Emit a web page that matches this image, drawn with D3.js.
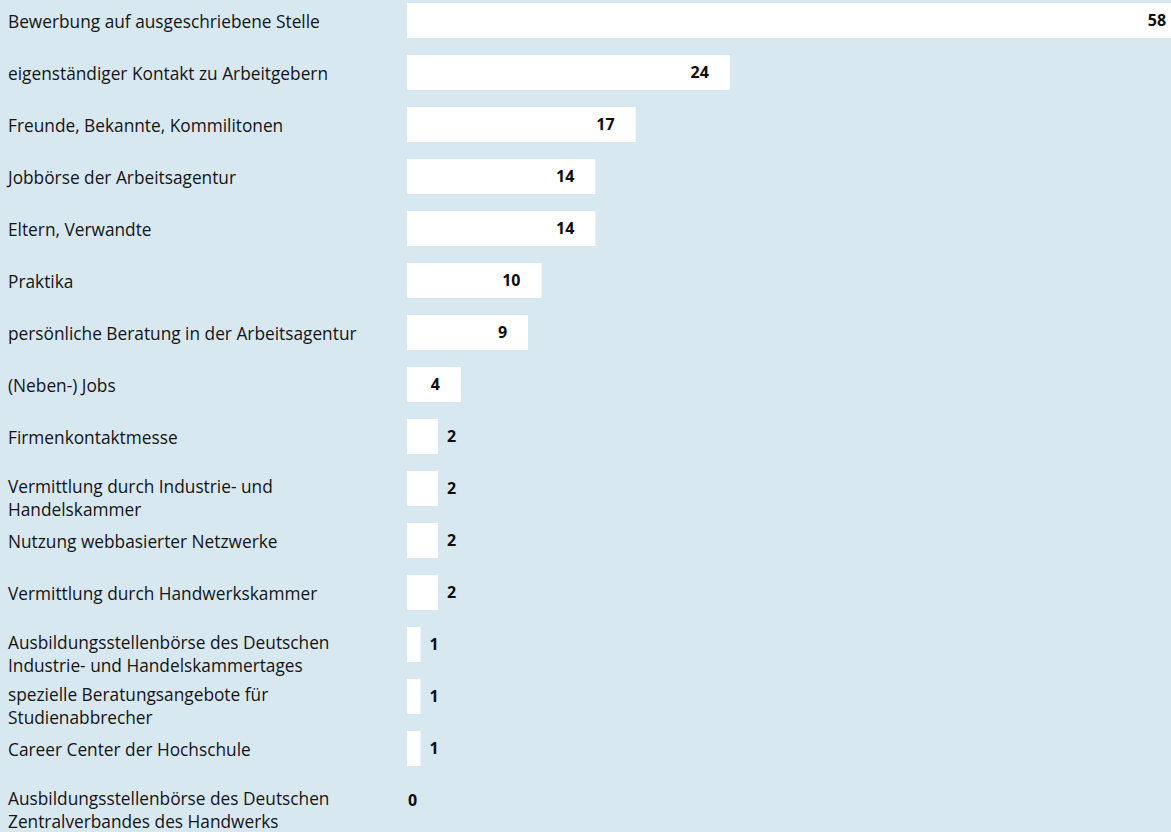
<!DOCTYPE html>
<html>
<head>
<meta charset="utf-8">
<script src="https://cdn.jsdelivr.net/npm/d3@7"></script>
<style>
  html, body { margin: 0; padding: 0; background: #d8e8f1; overflow: hidden; }
  svg { display: block; }
</style>
</head>
<body>
<svg id="chart" width="1171" height="832"></svg>
<script>
// Categories (label lines)
const categories = [
  ["Bewerbung auf ausgeschriebene Stelle"],
  ["eigenständiger Kontakt zu Arbeitgebern"],
  ["Freunde, Bekannte, Kommilitonen"],
  ["Jobbörse der Arbeitsagentur"],
  ["Eltern, Verwandte"],
  ["Praktika"],
  ["persönliche Beratung in der Arbeitsagentur"],
  ["(Neben-) Jobs"],
  ["Firmenkontaktmesse"],
  ["Vermittlung durch Industrie- und", "Handelskammer"],
  ["Nutzung webbasierter Netzwerke"],
  ["Vermittlung durch Handwerkskammer"],
  ["Ausbildungsstellenbörse des Deutschen", "Industrie- und Handelskammertages"],
  ["spezielle Beratungsangebote für", "Studienabbrecher"],
  ["Career Center der Hochschule"],
  ["Ausbildungsstellenbörse des Deutschen", "Zentralverbandes des Handwerks"]
];
// Values (bar lengths; labels are shown rounded)
const values = [58, 24, 17, 14, 14, 10, 9, 4, 2.3, 2.3, 2.3, 2.3, 1, 1, 1, 0];

const svg = d3.select("#chart");

const y = d3.scaleBand()
  .domain(d3.range(categories.length))
  .range([3, 818])
  .paddingInner(17 / 52)
  .paddingOuter(0);

const x = d3.scaleLinear()
  .domain([0, 58])
  .range([407, 407 + 58 * 13.45]);

const fmt = d3.format(".0f");

const rows = svg.selectAll("g.row")
  .data(values.map((v, i) => ({ v, i, lines: categories[i] })))
  .join("g")
  .attr("class", "row");

rows.append("rect")
  .attr("x", x(0))
  .attr("y", d => y(d.i))
  .attr("width", d => x(d.v) - x(0))
  .attr("height", y.bandwidth())
  .attr("fill", "#ffffff");

// category labels
rows.each(function(d) {
  const g = d3.select(this);
  const top = y(d.i);
  const t = g.append("text")
    .attr("x", 8)
    .attr("font-family", "'Open Sans', sans-serif")
    .attr("font-size", 17.3)
    .attr("fill", "#141414");
  if (d.lines.length === 1) {
    t.append("tspan").attr("x", 8).attr("y", top + 25).text(d.lines[0]);
  } else {
    d.lines.forEach((ln, k) => {
      t.append("tspan").attr("x", 8).attr("y", top + 22 + k * 23).text(ln);
    });
  }
});

// value labels
rows.append("text")
  .attr("font-family", "'Open Sans', sans-serif")
  .attr("font-weight", "bold")
  .attr("font-size", 16)
  .attr("fill", "#0d0d0d")
  .attr("y", d => y(d.i) + y.bandwidth() / 2)
  .attr("dy", "0.36em")
  .attr("text-anchor", d => (x(d.v) - x(0)) > 45 ? "end" : "start")
  .attr("x", d => {
    const w = x(d.v) - x(0);
    if (w > 45) return x(d.v) - 21;
    if (d.v === 0) return x(0) + 1;
    return x(d.v) + 9;
  })
  .text(d => fmt(d.v));
</script>
</body>
</html>
